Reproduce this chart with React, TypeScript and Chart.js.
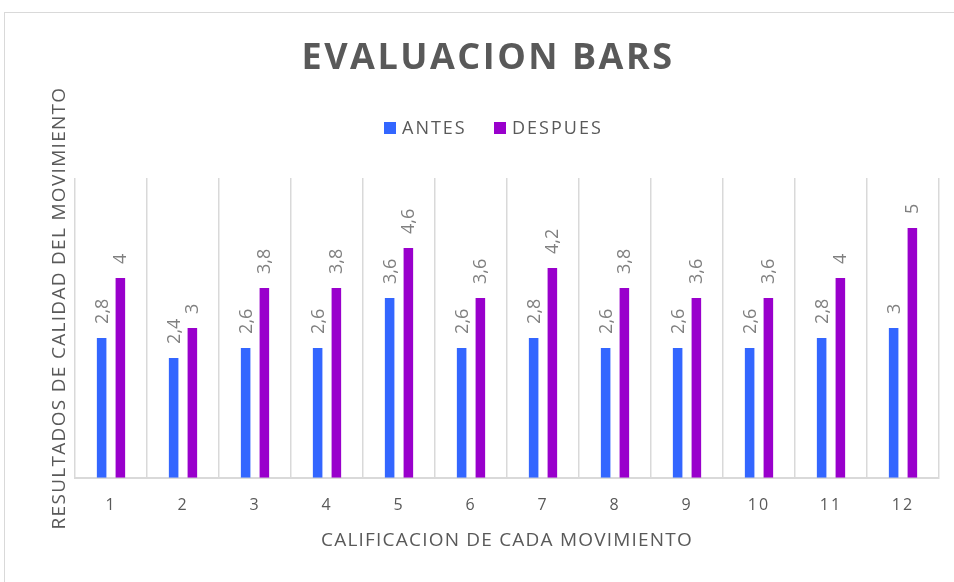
import React, { useEffect, useRef } from "react";
import { Chart, registerables } from "chart.js";

Chart.register(...registerables);

const categories = ["1", "2", "3", "4", "5", "6", "7", "8", "9", "10", "11", "12"];
const antes = [2.8, 2.4, 2.6, 2.6, 3.6, 2.6, 2.8, 2.6, 2.6, 2.6, 2.8, 3];
const despues = [4, 3, 3.8, 3.8, 4.6, 3.6, 4.2, 3.8, 3.6, 3.6, 4, 5];
const seriesNames = ["ANTES", "DESPUES"];
const seriesColors = ["#3366FF", "#9900CC"];
const chartTitle = "EVALUACION BARS";
const xTitle = "CALIFICACION DE CADA MOVIMIENTO";
const yTitle = "RESULTADOS DE CALIDAD DEL MOVIMIENTO";

const TEXT = "#595959";
const FONT = "'Open Sans', sans-serif";

const fmt = (v: number) => String(v).replace(".", ",");

const decorPlugin = {
  id: "decor",
  beforeDraw(chart: any) {
    const ctx = chart.ctx;
    ctx.save();
    ctx.fillStyle = "#ffffff";
    ctx.fillRect(0, 0, chart.width, chart.height);
    ctx.strokeStyle = "#d9d9d9";
    ctx.lineWidth = 1;
    ctx.strokeRect(4.5, 12.5, 1000, 1000);
    ctx.restore();
    ctx.letterSpacing = "2px";
  },
  beforeDatasetsDraw(chart: any) {
    chart.ctx.letterSpacing = "0px";
  },
  afterDraw(chart: any) {
    const ctx = chart.ctx;
    const area = chart.chartArea;
    ctx.save();
    // title
    ctx.fillStyle = TEXT;
    ctx.textAlign = "center";
    ctx.textBaseline = "middle";
    ctx.letterSpacing = "2.5px";
    ctx.font = `bold 36px ${FONT}`;
    ctx.fillText(chartTitle, 488, 59);

    // legend
    ctx.letterSpacing = "2px";
    ctx.font = `18px ${FONT}`;
    ctx.textAlign = "left";
    const legendX = [384, 494];
    seriesNames.forEach((n, i) => {
      ctx.fillStyle = seriesColors[i];
      ctx.fillRect(legendX[i], 122, 12, 12);
      ctx.fillStyle = TEXT;
      ctx.fillText(n, legendX[i] + 18, 128.5);
    });

    // x title
    ctx.textAlign = "center";
    ctx.font = `19px ${FONT}`;
    ctx.letterSpacing = "1.2px";
    ctx.fillText(xTitle, (area.left + area.right) / 2, 541);

    // y title
    ctx.save();
    ctx.translate(60, 308);
    ctx.rotate(-Math.PI / 2);
    ctx.letterSpacing = "1.3px";
    ctx.font = `19px ${FONT}`;
    ctx.fillText(yTitle, 0, 0);
    ctx.restore();

    // data labels
    ctx.fillStyle = "#808080";
    ctx.font = `18px ${FONT}`;
    ctx.letterSpacing = "0px";
    chart.data.datasets.forEach((ds: any, di: number) => {
      const meta = chart.getDatasetMeta(di);
      meta.data.forEach((bar: any, i: number) => {
        ctx.save();
        ctx.translate(bar.x + 1, bar.y - 14);
        ctx.rotate(-Math.PI / 2);
        ctx.textAlign = "left";
        ctx.textBaseline = "middle";
        ctx.fillText(fmt(ds.data[i]), 0, 0);
        ctx.restore();
      });
    });
    ctx.restore();
  },
};

export default function App() {
  const ref = useRef<HTMLCanvasElement>(null);
  useEffect(() => {
    if (!ref.current) return;
    const chart = new Chart(ref.current, {
      type: "bar",
      data: {
        labels: categories,
        datasets: [
          { label: seriesNames[0], data: antes, backgroundColor: seriesColors[0] },
          { label: seriesNames[1], data: despues, backgroundColor: seriesColors[1] },
        ],
      },
      options: {
        animation: false,
        responsive: false,
        maintainAspectRatio: false,
        layout: { padding: { left: 75, right: 15, top: 178, bottom: 49 } },
        plugins: { legend: { display: false }, title: { display: false }, tooltip: { enabled: false } },
        datasets: { bar: { categoryPercentage: 0.52, barPercentage: 0.51 } },
        scales: {
          x: {
            grid: { display: true, offset: true, color: "#d9d9d9", lineWidth: 1.5, drawTicks: false },
            border: { display: true, color: "#d9d9d9", width: 2 },
            ticks: { color: TEXT, font: { family: FONT, size: 16 }, padding: 18 },
          },
          y: {
            display: false,
            min: 0,
            max: 6,
          },
        },
      },
      plugins: [decorPlugin],
    });
    return () => chart.destroy();
  }, []);
  return (
    <div style={{ position: "fixed", left: 0, top: 0, width: 954, height: 582 }}>
      <canvas ref={ref} width={954} height={582} style={{ width: 954, height: 582 }} />
    </div>
  );
}
